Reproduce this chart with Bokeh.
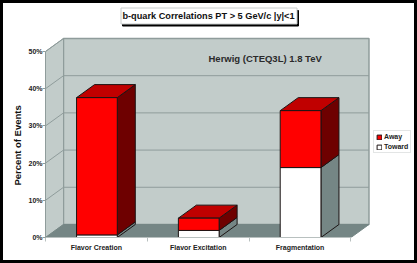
from bokeh.plotting import figure
from bokeh.models import (Range1d, LinearAxis, FixedTicker, Label, BoxAnnotation, Legend, LegendItem, Title)
from bokeh.embed import file_html
from bokeh.resources import INLINE

categories = ["Flavor Creation", "Flavor Excitation", "Fragmentation"]
toward = [0.7, 1.9, 18.8]
away = [36.9, 3.3, 15.3]
y_ticks = [0, 10, 20, 30, 40, 50]
y_tick_labels = ["0%", "10%", "20%", "30%", "40%", "50%"]

FONT = "Liberation Sans"
DX, DY = 0.1768, 3.5
BAR_L, BAR_R = 0.305, 0.705
WALL, FLOOR, GRID = "#c2ccca", "#758685", "#8f9c9b"
EDGE = "#1c1414"
YMAX, XMAX = 50, 3
FL, FB = 45, 237  # frame origin on the page

p = figure(width=411, height=257, output_backend="svg", toolbar_location=None,
           x_range=Range1d(0, 375 / 101.83), y_range=Range1d(0, 234 / 3.72),
           x_axis_location=None, y_axis_location=None,
           min_border_left=42, min_border_bottom=29, min_border_top=0, min_border_right=0)
p.margin = (0, 0, 0, 0)
p.styles = {"border": "3px solid black", "box-sizing": "content-box"}
p.grid.visible = False
p.outline_line_color = None
p.background_fill_color = "white"
p.border_fill_color = "white"

# walls and floor
p.patch([DX, XMAX + DX, XMAX + DX, DX], [DY, DY, YMAX + DY, YMAX + DY],
        fill_color=WALL, line_color=GRID, line_width=1.5)
p.patch([0, DX, DX, 0], [0, DY, YMAX + DY, YMAX], fill_color=WALL, line_color=GRID, line_width=1)
p.patch([0, XMAX, XMAX + DX, DX], [0, 0, DY, DY], fill_color=FLOOR, line_color=FLOOR)
for t in y_ticks[1:-1]:
    p.line([0, DX, XMAX + DX], [t, t + DY, t + DY], line_color=GRID, line_width=1)
p.line([0, DX], [50, 50 + DY], line_color=GRID, line_width=1)

# bars
xl = [i + BAR_L for i in range(len(categories))]
xr = [i + BAR_R for i in range(len(categories))]
tops = [a + b for a, b in zip(toward, away)]


def side(lo, hi):
    xs = [[r, r + DX, r + DX, r] for r in xr]
    ys = [[a, a + DY, b + DY, b] for a, b in zip(lo, hi)]
    return xs, ys


xs, ys = side([0] * 3, toward)
p.patches(xs, ys, fill_color=FLOOR, line_color=EDGE, line_width=1)
xs, ys = side(toward, tops)
p.patches(xs, ys, fill_color="#6e0000", line_color=EDGE, line_width=1)
p.patches([[l, r, r + DX, l + DX] for l, r in zip(xl, xr)],
          [[t, t, t + DY, t + DY] for t in tops],
          fill_color="#c00000", line_color=EDGE, line_width=1)
r_toward = p.quad(left=xl, right=xr, bottom=[0] * 3, top=toward,
                  fill_color="white", line_color=EDGE, line_width=1)
r_away = p.quad(left=xl, right=xr, bottom=toward, top=tops,
                fill_color="#ff0000", line_color=EDGE, line_width=1)

# axes
ya = LinearAxis(ticker=FixedTicker(ticks=y_ticks), bounds=(0, 50),
                major_label_overrides={t: s for t, s in zip(y_ticks, y_tick_labels)})
ya.axis_line_color = GRID
ya.major_tick_line_color = GRID
ya.major_tick_in = 0
ya.major_tick_out = 3
ya.minor_tick_line_color = None
ya.major_label_standoff = 0
ya.major_label_text_font = FONT
ya.major_label_text_font_size = "7px"
ya.major_label_text_font_style = "bold"
ya.major_label_text_color = "#222222"
p.add_layout(ya, "left")
p.add_layout(Title(text="Percent of Events", align="left", offset=52, standoff=6, text_font=FONT,
                   text_font_size="9.5px", text_font_style="bold", text_color="#111111"), "left")

xa = LinearAxis(ticker=FixedTicker(ticks=[0.5, 1.5, 2.5], minor_ticks=[0, 1, 2, 3]), bounds=(0, 3),
                major_label_overrides={i + 0.5: c for i, c in enumerate(categories)})
xa.axis_line_color = "#b8c0bf"
xa.major_tick_line_color = None
xa.major_tick_out = 0
xa.major_tick_in = 0
xa.minor_tick_line_color = "#b8c0bf"
xa.minor_tick_in = 0
xa.minor_tick_out = 4
xa.major_label_standoff = 2
xa.major_label_text_font = FONT
xa.major_label_text_font_size = "7px"
xa.major_label_text_font_style = "bold"
xa.major_label_text_color = "#222222"
p.add_layout(xa, "below")

# legend
leg = Legend(items=[LegendItem(label="Away", renderers=[r_away]),
                    LegendItem(label="Toward", renderers=[r_toward])],
             location=(328, 84), orientation="vertical",
             glyph_width=6, glyph_height=6, label_standoff=2, spacing=3,
             padding=2, margin=0, label_height=7,
             label_text_font=FONT, label_text_font_size="7px", label_text_font_style="bold",
             label_text_color="#222222", border_line_color="#c8cccc", border_line_width=1,
             background_fill_color="white", background_fill_alpha=1)
p.add_layout(leg)


def box(l, t, r, b, **kw):
    p.add_layout(BoxAnnotation(left=l - FL, right=r - FL, top=FB - t, bottom=FB - b,
                               left_units="screen", right_units="screen",
                               top_units="screen", bottom_units="screen", **kw))


def label(x, y, text, size, **kw):
    p.add_layout(Label(x=x - FL, y=FB - y, x_units="screen", y_units="screen", text=text,
                       text_font=FONT, text_font_size=size, text_font_style="bold",
                       text_baseline="middle", **kw))


box(122, 10, 298, 25.5, fill_color="black", fill_alpha=1, line_color="black", line_alpha=1)
box(120.5, 7.5, 296.5, 23.5, fill_color="white", fill_alpha=1, line_color="#c8cccc", line_alpha=1)
label(208, 15.5, "b-quark Correlations PT > 5 GeV/c |y|<1", "9.2px", text_align="center", text_color="#111111")
label(208, 58, "Herwig (CTEQ3L)  1.8 TeV", "9.5px", text_align="left", text_color="#2a2a2a")

open("out.html", "w").write(file_html(p, INLINE))
